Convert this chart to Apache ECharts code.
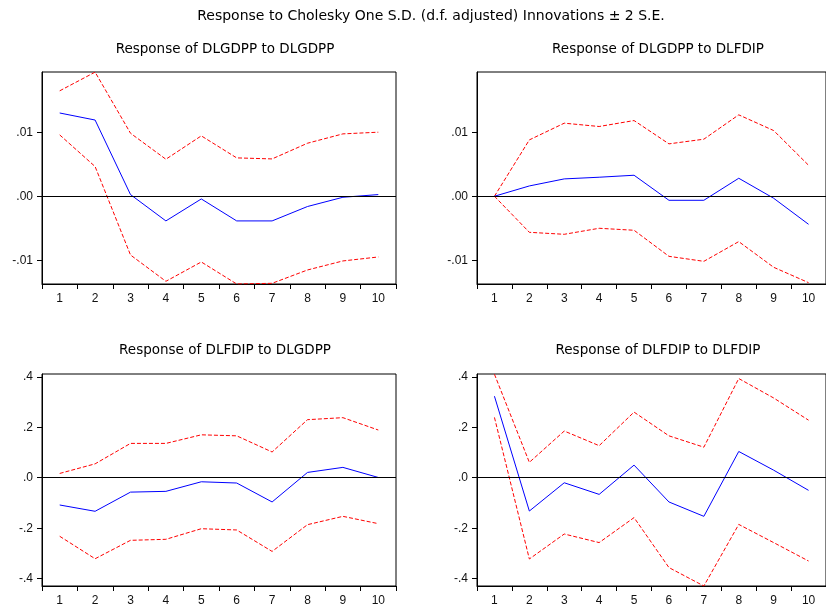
<!DOCTYPE html>
<html>
<head>
<meta charset="utf-8">
<script src="https://cdn.jsdelivr.net/npm/echarts@6/dist/echarts.min.js"></script>
<style>html,body{margin:0;padding:0;background:#fff}#c{width:826px;height:614px}</style>
</head>
<body>
<div id="c"></div>
<script>
const periods = ['1','2','3','4','5','6','7','8','9','10'];
const mainTitle = 'Response to Cholesky One S.D. (d.f. adjusted) Innovations \u00b1 2 S.E.';
const panelTitles = [
  'Response of DLGDPP to DLGDPP',
  'Response of DLGDPP to DLFDIP',
  'Response of DLFDIP to DLGDPP',
  'Response of DLFDIP to DLFDIP'
];
// Panel 1: DLGDPP to DLGDPP
const p1Resp  = [0.0130, 0.0119, 0.00026, -0.00385, -0.00042, -0.00385, -0.00385, -0.0016, -0.00016, 0.00026];
const p1Upper = [0.01646, 0.01938, 0.00984, 0.00578, 0.00943, 0.00599, 0.00583, 0.00828, 0.00974, 0.0100];
const p1Lower = [0.00958, 0.00464, -0.00917, -0.01328, -0.01026, -0.0137, -0.01359, -0.01151, -0.0101, -0.00948];
// Panel 2: DLGDPP to DLFDIP
const p2Resp  = [0, 0.00161, 0.00271, 0.00297, 0.00328, -0.00063, -0.00063, 0.00281, -0.00031, -0.00438];
const p2Upper = [0, 0.0088, 0.01141, 0.01089, 0.01182, 0.00818, 0.00891, 0.01271, 0.01026, 0.00484];
const p2Lower = [0, -0.00563, -0.00594, -0.0050, -0.00531, -0.00938, -0.01016, -0.00708, -0.01109, -0.01349];
// Panel 3: DLFDIP to DLGDPP
const p3Resp  = [-0.108, -0.133, -0.057, -0.054, -0.016, -0.021, -0.096, 0.021, 0.041, 0.001];
const p3Upper = [0.017, 0.055, 0.136, 0.136, 0.170, 0.166, 0.102, 0.230, 0.238, 0.189];
const p3Lower = [-0.232, -0.321, -0.248, -0.244, -0.202, -0.207, -0.292, -0.186, -0.153, -0.182];
// Panel 4: DLFDIP to DLFDIP
const p4Resp  = [0.323, -0.132, -0.020, -0.066, 0.050, -0.096, -0.153, 0.104, 0.030, -0.050];
const p4Upper = [0.410, 0.061, 0.185, 0.127, 0.260, 0.166, 0.121, 0.393, 0.316, 0.228];
const p4Lower = [0.239, -0.322, -0.223, -0.257, -0.158, -0.356, -0.429, -0.185, -0.257, -0.330];

const topTicks = [-0.01, 0, 0.01];
const topLabels = ['-.01', '.00', '.01'];
const bottomTicks = [-0.4, -0.2, 0, 0.2, 0.4];
const bottomLabels = ['-.4', '-.2', '.0', '.2', '.4'];
const topRange = [-0.0137, 0.0194];
const bottomRange = [-0.429, 0.411];

const panels = [
  {resp: p1Resp, up: p1Upper, lo: p1Lower, ticks: topTicks, labels: topLabels, range: topRange},
  {resp: p2Resp, up: p2Upper, lo: p2Lower, ticks: topTicks, labels: topLabels, range: topRange},
  {resp: p3Resp, up: p3Upper, lo: p3Lower, ticks: bottomTicks, labels: bottomLabels, range: bottomRange},
  {resp: p4Resp, up: p4Upper, lo: p4Lower, ticks: bottomTicks, labels: bottomLabels, range: bottomRange}
];
const gridPos = [
  {left: 42, top: 72, width: 354, height: 212},
  {left: 477, top: 72, width: 353, height: 212},
  {left: 42, top: 374, width: 354, height: 212},
  {left: 477, top: 374, width: 353, height: 212}
];
const titlePos = [
  {x: 220, y: 46}, {x: 653, y: 46}, {x: 220, y: 347}, {x: 653, y: 347}
];
const FONT = '"Liberation Sans", Arial, sans-serif';
const TFONT = '"DejaVu Sans", sans-serif';

const chart = echarts.init(document.getElementById('c'), null, {renderer: 'canvas'});
const option = {
  animation: false,
  backgroundColor: '#fff',
  title: [{
    text: mainTitle, left: 426, top: 4, textAlign: 'center',
    textStyle: {fontFamily: TFONT, fontSize: 14, fontWeight: 'normal', color: '#000'}
  }].concat(panelTitles.map((t, i) => ({
    text: t, left: titlePos[i].x, top: titlePos[i].y - 9, textAlign: 'center',
    textStyle: {fontFamily: TFONT, fontSize: 13.5, fontWeight: 'normal', color: '#000'}
  }))),
  grid: gridPos.map(g => Object.assign({show: true, borderColor: '#000', borderWidth: 1, backgroundColor: 'transparent'}, g)),
  xAxis: panels.map((p, i) => ({
    type: 'category', gridIndex: i, data: periods, boundaryGap: true,
    axisLine: {show: true, onZero: false, lineStyle: {color: '#000', width: 1}},
    axisTick: {show: true, interval: 0, length: 5, lineStyle: {color: '#000'}},
    axisLabel: {interval: 0, fontFamily: FONT, fontSize: 12, color: '#111', margin: 9},
    splitLine: {show: false}
  })),
  yAxis: panels.map((p, i) => ({
    type: 'value', gridIndex: i, min: p.range[0], max: p.range[1],
    axisLine: {show: true, onZero: false, lineStyle: {color: '#000', width: 1}},
    axisTick: {show: true, length: 5, customValues: p.ticks, lineStyle: {color: '#000'}},
    axisLabel: {
      customValues: p.ticks, fontFamily: FONT, fontSize: 12, color: '#111', margin: 9,
      formatter: v => { const k = p.ticks.findIndex(t => Math.abs(t - v) < 1e-9); return k >= 0 ? p.labels[k] : ''; }
    },
    splitLine: {show: false}
  })),
  series: []
};
panels.forEach((p, i) => {
  option.series.push({
    type: 'line', xAxisIndex: i, yAxisIndex: i, data: p.resp, symbol: 'none', z: 3,
    lineStyle: {color: '#0000ff', width: 1},
    markLine: {
      silent: true, symbol: 'none', label: {show: false},
      lineStyle: {color: '#000', width: 1, type: 'solid'},
      data: [{yAxis: 0}]
    }
  });
  option.series.push({
    type: 'line', xAxisIndex: i, yAxisIndex: i, data: p.up, symbol: 'none', z: 2,
    lineStyle: {color: '#ff0000', width: 1, type: [4, 2]}
  });
  option.series.push({
    type: 'line', xAxisIndex: i, yAxisIndex: i, data: p.lo, symbol: 'none', z: 2,
    lineStyle: {color: '#ff0000', width: 1, type: [4, 2]}
  });
});
chart.setOption(option);
</script>
</body>
</html>
